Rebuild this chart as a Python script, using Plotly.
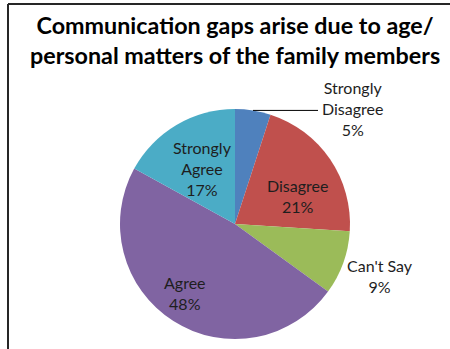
import math
import plotly.graph_objects as go

# Survey responses
categories = ["Strongly Disagree", "Disagree", "Can't Say", "Agree", "Strongly Agree"]
label_text = ["Strongly<br>Disagree", "Disagree", "Can't Say", "Agree", "Strongly<br>Agree"]
percentages = [5, 21, 9, 48, 17]
slice_colors = ["#4F81BD", "#C0504D", "#9BBB59", "#8064A2", "#4BACC6"]

W, H = 450, 349
CX, CY, R = 235, 224, 115  # pie centre and radius in pixels


def px(x):
    return x / W


def py(y):
    return 1 - y / H


fig = go.Figure(
    go.Pie(
        labels=categories,
        values=percentages,
        marker=dict(colors=slice_colors, line=dict(width=0)),
        sort=False,
        direction="clockwise",
        rotation=0,
        textinfo="none",
        hoverinfo="label+percent",
        domain=dict(x=[px(CX - R), px(CX + R)], y=[py(CY + R), py(CY - R)]),
        showlegend=False,
    )
)

# Label anchor points (pixel centres of each text block)
label_pos = [(352, 108), (297, 196), (380, 276), (185, 293), (202, 169)]

annotations = []
for txt, val, (lx, ly) in zip(label_text, percentages, label_pos):
    annotations.append(
        dict(
            x=px(lx), y=py(ly), xref="paper", yref="paper",
            text=f"{txt}<br>{val}%", showarrow=False,
            font=dict(family="Lato", size=16, color="#1e1e1e"),
            xanchor="center", yanchor="middle", align="center",
        )
    )

# Title
annotations.append(
    dict(
        x=px(235), y=py(40), xref="paper", yref="paper",
        text="<b>Communication gaps arise due to age/<br>personal matters of the family members</b>",
        showarrow=False, xanchor="center", yanchor="middle", align="center",
        font=dict(family="Lato", size=23.3, color="#000000"),
    )
)

# Leader line from the middle of the first slice's arc to its label
total = sum(percentages)
mid_angle = math.radians(360 * percentages[0] / total / 2)
sx = CX + R * math.sin(mid_angle)
sy = CY - R * math.cos(mid_angle)
shapes = [
    dict(type="line", xref="paper", yref="paper",
         x0=px(sx), y0=py(sy), x1=px(318), y1=py(sy),
         line=dict(color="#000000", width=1)),
    # chart frame (left and top edges)
    dict(type="line", xref="paper", yref="paper",
         x0=px(8), y0=py(4), x1=px(8), y1=0,
         line=dict(color="#262626", width=2)),
    dict(type="line", xref="paper", yref="paper",
         x0=px(8), y0=py(4), x1=1, y1=py(4),
         line=dict(color="#262626", width=2)),
]

fig.update_layout(
    width=W, height=H,
    margin=dict(l=0, r=0, t=0, b=0),
    paper_bgcolor="white", plot_bgcolor="white",
    annotations=annotations, shapes=shapes,
)

fig.write_html("out.html", config={"displayModeBar": False})
